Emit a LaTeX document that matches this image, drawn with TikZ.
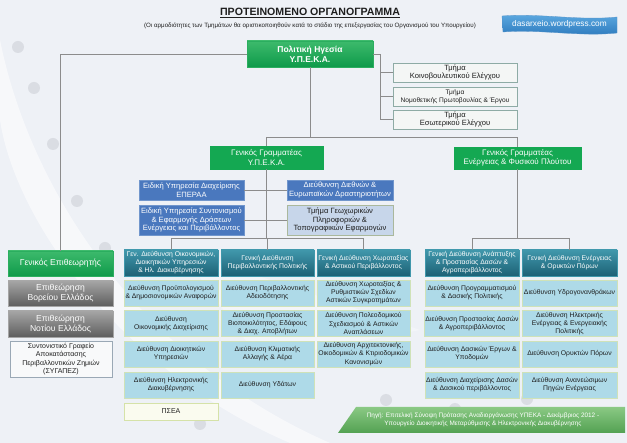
\documentclass[tikz,border=0pt]{standalone}
\usepackage{fontspec}
\setmainfont{Liberation Sans}
\usetikzlibrary{shadows}
\definecolor{bgc}{HTML}{EEF1F6}
\definecolor{linec}{HTML}{8C8C8C}
\definecolor{gtop}{HTML}{3DBA6C}
\definecolor{gbot}{HTML}{0E9A4A}
\definecolor{gflat}{HTML}{14A852}
\definecolor{gbord}{HTML}{2BAE5F}
\definecolor{bluef}{HTML}{4A78BE}
\definecolor{blueb}{HTML}{7196CC}
\definecolor{geof}{HTML}{C7D6EA}
\definecolor{geob}{HTML}{AAB89C}
\definecolor{tmf}{HTML}{F4F6F5}
\definecolor{tmb}{HTML}{8EABA5}
\definecolor{htop}{HTML}{4097AB}
\definecolor{hbot}{HTML}{1D6176}
\definecolor{rowf}{HTML}{AEDAE8}
\definecolor{rowb}{HTML}{CFE2B8}
\definecolor{pseaf}{HTML}{FAFBEF}
\definecolor{pseab}{HTML}{D5E2A8}
\definecolor{grtop}{HTML}{A5A5A5}
\definecolor{grbot}{HTML}{5E5E5E}
\definecolor{sygf}{HTML}{F8F9FA}
\definecolor{sygb}{HTML}{9AA8B5}
\definecolor{bntop}{HTML}{8AC984}
\definecolor{bnbot}{HTML}{53A152}
\definecolor{bdtop}{HTML}{5DABE2}
\definecolor{bdbot}{HTML}{2C78BC}
\definecolor{txt}{HTML}{1E1E1E}
\definecolor{dotc}{HTML}{DADDE3}
\tikzset{
  every node/.style={font=\fontsize{7.5}{8.6}\selectfont, align=center, inner sep=1pt, text=txt},
  sz/.style 2 args={minimum width=#1, minimum height=#2},
  conn/.style={draw=linec, line width=0.8pt},
  polbox/.style={draw=gbord, line width=0.6pt, top color=gtop, bottom color=gbot, text=white,
     font=\fontsize{8.5}{10}\selectfont\bfseries, drop shadow={opacity=0.35, shadow xshift=1.2pt, shadow yshift=-1.2pt}},
  ggbox/.style={draw=gflat, fill=gflat, text=white, font=\fontsize{8}{9.3}\selectfont},
  gebox/.style={draw=gbord, line width=0.6pt, top color=gtop, bottom color=gbot, text=white, font=\fontsize{8.6}{10}\selectfont},
  bluebox/.style={draw=blueb, line width=0.6pt, fill=bluef, text=white, font=\fontsize{7.6}{8.8}\selectfont},
  geobox/.style={draw=geob, line width=0.6pt, fill=geof, font=\fontsize{7.6}{8.8}\selectfont},
  tmbox/.style={draw=tmb, line width=0.6pt, fill=tmf, font=\fontsize{7.6}{8.8}\selectfont},
  hdbox/.style={draw=htop, line width=0.5pt, top color=htop, bottom color=hbot, text=white, font=\fontsize{6.8}{8.1}\selectfont},
  rowbox/.style={draw=rowb, line width=0.8pt, fill=rowf, font=\fontsize{6.8}{8.1}\selectfont},
  pseabox/.style={draw=pseab, line width=0.8pt, fill=pseaf, font=\fontsize{7}{8}\selectfont},
  graybox/.style={draw=grtop, line width=0.5pt, top color=grtop, bottom color=grbot, text=white, font=\fontsize{8.6}{10}\selectfont},
  sygbox/.style={draw=sygb, line width=0.6pt, fill=sygf, font=\fontsize{7}{8.2}\selectfont},
}
\begin{document}
\begin{tikzpicture}[x=1pt,y=-1pt]
\useasboundingbox (0,0) rectangle (627,443);
\fill[bgc] (0,0) rectangle (627,443);
% decorative background
\fill[white, opacity=0.55] (0,40) .. controls (30,190) and (140,360) .. (330,443) -- (290,443) .. controls (120,370) and (15,220) .. (0,120) -- cycle;
\fill[white, opacity=0.35] (180,250) -- (420,330) -- (260,360) -- cycle;
\foreach \p in {(18,47),(34,88),(53,144),(77,201),(105,248),(200,424),(386,400),(455,409),(527,399)}
  \fill[dotc] \p circle (6);

% title
\node[font=\fontsize{10.6}{12}\selectfont\bfseries] (title) at (310,13) {\underline{ΠΡΟΤΕΙΝΟΜΕΝΟ ΟΡΓΑΝΟΓΡΑΜΜΑ}};
\node[font=\fontsize{6.2}{7.4}\selectfont] (sub) at (310,25.5) {(Οι αρμοδιότητες των Τμημάτων θα οριστικοποιηθούν κατά το στάδιο της επεξεργασίας του Οργανισμού του Υπουργείου)};

% badge
\shade[top color=bdtop, bottom color=bdbot, draw=bdbot!80, line width=0.3pt]
  (502,16) .. controls (540,13) and (580,21) .. (617,17) -- (617,33) .. controls (580,37) and (540,29) .. (503,32) -- cycle;
\node[text=white, font=\fontsize{8.3}{10}\selectfont] (badge) at (559.5,24.5) {dasarxeio.wordpress.com};

% top level
\node[polbox, sz={126}{26}] (pol) at (310,54) {Πολιτική Ηγεσία\\Υ.Π.Ε.Κ.Α.};
\node[tmbox, sz={124}{19}] (t1) at (455,72.5) {Τμήμα\\Κοινοβουλευτικού Ελέγχου};
\node[tmbox, sz={124}{19}, font=\fontsize{6.6}{7.9}\selectfont] (t2) at (455,96.5) {Τμήμα\\Νομοθετικής Πρωτοβουλίας \& Έργου};
\node[tmbox, sz={124}{19}] (t3) at (455,119.5) {Τμήμα\\Εσωτερικού Ελέγχου};

\node[ggbox, sz={113}{23}] (ggy) at (266.5,157.5) {Γενικός Γραμματέας\\Υ.Π.Ε.Κ.Α.};
\node[ggbox, sz={127}{22}] (gge) at (517.5,158) {Γενικός Γραμματέας\\Ενέργειας \& Φυσικού Πλούτου};

\node[bluebox, sz={105}{20}] (epe) at (191.5,190) {Ειδική Υπηρεσία Διαχείρισης\\ΕΠΕΡΑΑ};
\node[bluebox, sz={105}{30}] (syn) at (191.5,220) {Ειδική Υπηρεσία Συντονισμού\\\& Εφαρμογής Δράσεων\\Ενέργειας και Περιβάλλοντος};
\node[bluebox, sz={106}{20}] (die) at (340,190) {Διεύθυνση Διεθνών \&\\Ευρωπαϊκών Δραστηριοτήτων};
\node[geobox, sz={106}{30}] (geo) at (340,220) {Τμήμα Γεωχωρικών\\Πληροφοριών \&\\Τοπογραφικών Εφαρμογών};

% left column
\node[gebox, sz={105}{25}] (gep) at (60.5,263.5) {Γενικός Επιθεωρητής};
\node[graybox, sz={105}{25}] (vor) at (60.5,293.5) {Επιθεώρηση\\Βορείου Ελλάδος};
\node[graybox, sz={105}{26}] (not) at (60.5,324) {Επιθεώρηση\\Νοτίου Ελλάδος};
\node[sygbox, sz={102}{36}] (syg) at (61,359) {Συντονιστικό Γραφείο\\Αποκατάστασης\\Περιβαλλοντικών Ζημιών\\(ΣΥΓΑΠΕΖ)};

% column 1
\node[hdbox, sz={94}{26}] (h1) at (171,263) {Γεν. Διεύθυνση Οικονομικών,\\Διοικητικών Υπηρεσιών\\\& Ηλ. Διακυβέρνησης};
\node[rowbox, sz={94}{26}] (a1) at (171,293) {Διεύθυνση Προϋπολογισμού\\\& Δημοσιονομικών Αναφορών};
\node[rowbox, sz={94}{26}] (a2) at (171,323.5) {Διεύθυνση\\Οικονομικής Διαχείρισης};
\node[rowbox, sz={94}{26}] (a3) at (171,354) {Διεύθυνση Διοικητικών\\Υπηρεσιών};
\node[rowbox, sz={94}{26}] (a4) at (171,385) {Διεύθυνση Ηλεκτρονικής\\Διακυβέρνησης};
\node[pseabox, sz={94}{17}] (a5) at (171,411.5) {ΠΣΕΑ};

% column 2
\node[hdbox, sz={93}{26}] (h2) at (267.5,263) {Γενική Διεύθυνση\\Περιβαλλοντικής Πολιτικής};
\node[rowbox, sz={93}{26}] (b1) at (267.5,293) {Διεύθυνση Περιβαλλοντικής\\Αδειοδότησης};
\node[rowbox, sz={93}{26}] (b2) at (267.5,323.5) {Διεύθυνση Προστασίας\\Βιοποικιλότητος, Εδάφους\\\& Διαχ. Αποβλήτων};
\node[rowbox, sz={93}{26}] (b3) at (267.5,354) {Διεύθυνση Κλιματικής\\Αλλαγής \& Αέρα};
\node[rowbox, sz={93}{26}] (b4) at (267.5,385) {Διεύθυνση Υδάτων};

% column 3
\node[hdbox, sz={93}{26}] (h3) at (363.5,263) {Γενική Διεύθυνση Χωροταξίας\\\& Αστικού Περιβάλλοντος};
\node[rowbox, sz={93}{26}] (c1) at (363.5,293) {Διεύθυνση Χωροταξίας \&\\Ρυθμιστικών Σχεδίων\\Αστικών Συγκροτημάτων};
\node[rowbox, sz={93}{26}] (c2) at (363.5,323.5) {Διεύθυνση Πολεοδομικού\\Σχεδιασμού \& Αστικών\\Αναπλάσεων};
\node[rowbox, sz={93}{26}] (c3) at (363.5,354) {Διεύθυνση Αρχιτεκτονικής,\\Οικοδομικών \& Κτιριοδομικών\\Κανονισμών};

% column 4
\node[hdbox, sz={94}{26}] (h4) at (472,263) {Γενική Διεύθυνση Ανάπτυξης\\\& Προστασίας Δασών \&\\Αγροπεριβάλλοντος};
\node[rowbox, sz={94}{26}] (d1) at (472,293) {Διεύθυνση Προγραμματισμού\\\& Δασικής Πολιτικής};
\node[rowbox, sz={94}{26}] (d2) at (472,323.5) {Διεύθυνση Προστασίας Δασών\\\& Αγροπεριβάλλοντος};
\node[rowbox, sz={94}{26}] (d3) at (472,354) {Διεύθυνση Δασικών Έργων \&\\Υποδομών};
\node[rowbox, sz={94}{26}] (d4) at (472,385) {Διεύθυνση Διαχείρισης Δασών\\\& Δασικού περιβάλλοντος};

% column 5
\node[hdbox, sz={95}{26}] (h5) at (569.5,263) {Γενική Διεύθυνση Ενέργειας\\\& Ορυκτών Πόρων};
\node[rowbox, sz={95}{26}] (e1) at (569.5,293) {Διεύθυνση Υδρογονανθράκων};
\node[rowbox, sz={95}{26}] (e2) at (569.5,323.5) {Διεύθυνση Ηλεκτρικής\\Ενέργειας \& Ενεργειακής\\Πολιτικής};
\node[rowbox, sz={95}{26}] (e3) at (569.5,354) {Διεύθυνση Ορυκτών Πόρων};
\node[rowbox, sz={95}{26}] (e4) at (569.5,385) {Διεύθυνση Ανανεώσιμων\\Πηγών Ενέργειας};

% source banner
\shade[top color=bntop, bottom color=bnbot] (356,407) -- (625,407) -- (625,433) -- (338,433) -- cycle;
\node[text=white, font=\fontsize{6.4}{7.8}\selectfont] (src) at (483,420) {Πηγή: Επιτελική Σύνοψη Πρότασης Αναδιοργάνωσης ΥΠΕΚΑ - Δεκέμβριος 2012 -\\Υπουργείο Διοικητικής Μεταρύθμισης \& Ηλεκτρονικής Διακυβέρνησης};

% connectors
\coordinate (pr) at (380,54);
\coordinate (bus1) at (310,137);
\coordinate (bus2) at (266.5,238);
\coordinate (bus3) at (517.5,238);
\draw[conn] (pol.east) -- (pr) |- (t3.west);
\draw[conn] (pr |- t1.west) -- (t1.west);
\draw[conn] (pr |- t2.west) -- (t2.west);
\draw[conn] (pol.west) -| (gep.north);
\draw[conn] (pol.south) -- (bus1);
\draw[conn] (ggy.north) -- (ggy.north |- bus1) -- (gge.north |- bus1) -- (gge.north);
\draw[conn] (ggy.south) -- (bus2);
\draw[conn] (epe.east) -- (die.west);
\draw[conn] (syn.east) -- (geo.west);
\draw[conn] (h1.north) -- (h1.north |- bus2) -- (h3.north |- bus2) -- (h3.north);
\draw[conn] (h2.north |- bus2) -- (h2.north);
\draw[conn] (gge.south) -- (bus3);
\draw[conn] (h4.north) -- (h4.north |- bus3) -- (h5.north |- bus3) -- (h5.north);
\end{tikzpicture}
\end{document}
